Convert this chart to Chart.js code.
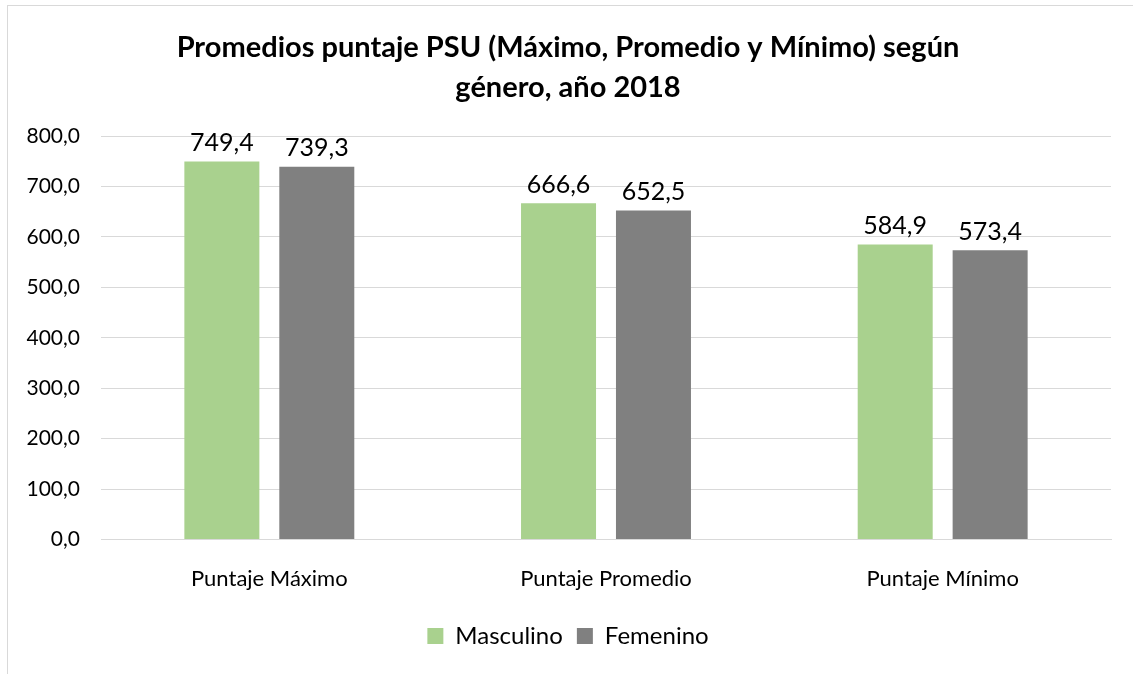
<!DOCTYPE html>
<html>
<head>
<meta charset="utf-8">
<script src="https://cdn.jsdelivr.net/npm/chart.js@4.4.0/dist/chart.umd.min.js"></script>
<style>
  body { margin: 0; background: #fff; }
  #frame { position: absolute; left: 7px; top: 5px; width: 1140px; height: 690px; border: 1px solid #d9d9d9; }
  #wrap { position: absolute; left: 0; top: 0; width: 1133px; height: 674px; }
</style>
</head>
<body>
<div id="frame"></div>
<div id="wrap"><canvas id="chart"></canvas></div>
<script>
const categories = ["Puntaje Máximo", "Puntaje Promedio", "Puntaje Mínimo"];
const masculino = [749.4, 666.6, 584.9];
const femenino = [739.3, 652.5, 573.4];
const yTicks = [0, 100, 200, 300, 400, 500, 600, 700, 800];

const fontFamily = "Lato, 'Open Sans', sans-serif";
const fmt = v => v.toFixed(1).replace(".", ",");

const valueLabels = {
  id: "valueLabels",
  afterDatasetsDraw(chart) {
    const ctx = chart.ctx;
    ctx.save();
    ctx.font = "25px " + fontFamily;
    ctx.fillStyle = "#000";
    ctx.textAlign = "center";
    ctx.textBaseline = "bottom";
    chart.data.datasets.forEach((ds, i) => {
      chart.getDatasetMeta(i).data.forEach((bar, j) => {
        ctx.fillText(fmt(ds.data[j]), bar.x, bar.y - 6);
      });
    });
    ctx.restore();
  }
};

new Chart(document.getElementById("chart"), {
  type: "bar",
  data: {
    labels: categories,
    datasets: [
      { label: "Masculino", data: masculino, backgroundColor: "#A9D18E" },
      { label: "Femenino", data: femenino, backgroundColor: "#808080" }
    ]
  },
  options: {
    responsive: true,
    maintainAspectRatio: false,
    animation: false,
    categoryPercentage: 0.564,
    barPercentage: 0.79,
    layout: { padding: { left: 25, right: 22, top: 12, bottom: 16 } },
    plugins: {
      title: {
        display: true,
        text: ["Promedios puntaje PSU (Máximo, Promedio y Mínimo) según", "género, año 2018"],
        color: "#000",
        font: { family: fontFamily, size: 29, weight: "bold", lineHeight: 1.38 },
        padding: { top: 16, bottom: 28 }
      },
      legend: {
        position: "bottom",
        labels: {
          color: "#000",
          boxWidth: 16,
          boxHeight: 16,
          padding: 14,
          font: { family: fontFamily, size: 24 }
        }
      },
      tooltip: { enabled: false }
    },
    scales: {
      x: {
        grid: { display: false },
        border: { color: "#d9d9d9" },
        afterFit: axis => { axis.paddingLeft = 0; axis.paddingRight = 0; },
        ticks: { color: "#000", padding: 18, font: { family: fontFamily, size: 22 } }
      },
      y: {
        min: 0,
        max: 800,
        afterBuildTicks: axis => { axis.ticks = yTicks.map(v => ({ value: v })); },
        afterFit: axis => { axis.width = 76; },
        grid: { color: "#d9d9d9", drawTicks: false },
        border: { display: false },
        ticks: { color: "#000", padding: 21, font: { family: fontFamily, size: 21 }, callback: v => fmt(v) }
      }
    }
  },
  plugins: [valueLabels]
});
</script>
</body>
</html>
